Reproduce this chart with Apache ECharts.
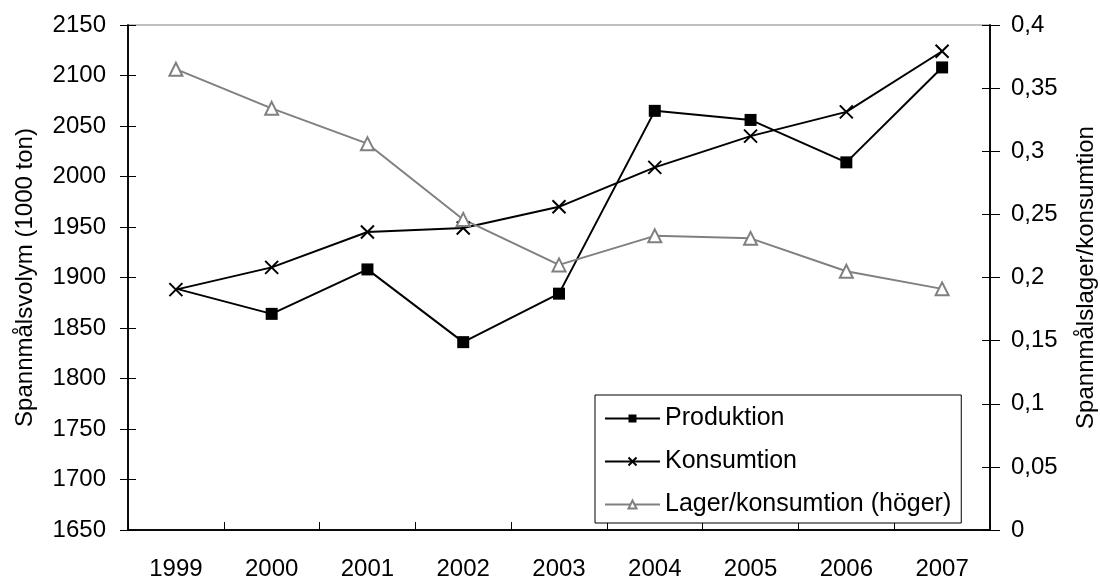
<!DOCTYPE html>
<html>
<head>
<meta charset="utf-8">
<script src="https://cdn.jsdelivr.net/npm/echarts@6/dist/echarts.min.js"></script>
<style>
  html, body { margin: 0; padding: 0; background: #fff; }
  #chart { width: 1100px; height: 581px; }
</style>
</head>
<body>
<div id="chart"></div>
<script>
const years = ['1999', '2000', '2001', '2002', '2003', '2004', '2005', '2006', '2007']
const produktion = [1889, 1864, 1908, 1836, 1884, 2065, 2056, 2014, 2108]
const konsumtion = [1888, 1910, 1945, 1949, 1970, 2009, 2040, 2064, 2124]
const lager = [0.365, 0.334, 0.306, 0.246, 0.21, 0.233, 0.231, 0.205, 0.191]

const font = 'Liberation Sans, Arial, sans-serif'
const crossMark = 'path://M0,0L10,10M10,0L0,10'

const chart = echarts.init(document.getElementById('chart'))

// extra axes only draw the inner half of the cross ticks
const innerY = (pos, min, max, interval) => ({
  type: 'value', position: pos, min: min, max: max, interval: interval,
  axisLine: { show: true, lineStyle: { color: '#000', width: 1.5 } },
  axisLabel: { show: false },
  splitLine: { show: false },
  axisTick: { show: true, inside: true, length: 8, lineStyle: { color: '#000' } }
})

chart.setOption({
  animation: false,
  textStyle: { fontFamily: font },
  grid: {
    left: 128, right: 110, top: 25, bottom: 51,
    outerBoundsMode: 'none',
    containLabel: false,
    show: true, borderColor: '#808080', borderWidth: 1
  },
  legend: {
    orient: 'vertical',
    left: 595,
    top: 395,
    backgroundColor: '#fff',
    borderColor: '#000',
    borderWidth: 1,
    borderRadius: 0,
    padding: [11, 10, 6, 9],
    itemGap: 18,
    itemWidth: 55,
    itemHeight: 10,
    textStyle: { fontSize: 25, color: '#000', fontFamily: font },
    data: ['Produktion', 'Konsumtion', 'Lager/konsumtion (höger)']
  },
  xAxis: [{
    type: 'category',
    data: years,
    boundaryGap: true,
    axisLine: { lineStyle: { color: '#000', width: 1.5 } },
    axisTick: { length: 8, lineStyle: { color: '#000' } },
    axisLabel: { fontSize: 24, color: '#000', margin: 27 },
    splitLine: { show: false }
  }, {
    type: 'category',
    data: years,
    position: 'bottom',
    axisLine: { show: true, lineStyle: { color: '#000', width: 1.5 } },
    axisLabel: { show: false },
    axisTick: { show: true, inside: true, length: 8, lineStyle: { color: '#000' } },
    splitLine: { show: false }
  }],
  yAxis: [{
    type: 'value',
    position: 'left',
    min: 1650, max: 2150, interval: 50,
    name: 'Spannmålsvolym (1000 ton)',
    nameLocation: 'middle',
    nameGap: 91,
    nameTextStyle: { fontSize: 24, color: '#000' },
    axisLine: { show: true, lineStyle: { color: '#000', width: 1.5 } },
    axisTick: { show: true, length: 8, lineStyle: { color: '#000' } },
    axisLabel: { fontSize: 24, color: '#000', margin: 22, formatter: v => String(v) },
    splitLine: { show: false }
  }, {
    type: 'value',
    position: 'right',
    min: 0, max: 0.4, interval: 0.05,
    name: 'Spannmålslager/konsumtion',
    nameLocation: 'middle',
    nameGap: 84,
    nameRotate: 90,
    nameTextStyle: { fontSize: 24, color: '#000' },
    axisLine: { show: true, lineStyle: { color: '#000', width: 1.5 } },
    axisTick: { show: true, length: 10, lineStyle: { color: '#000' } },
    axisLabel: {
      fontSize: 24, color: '#000', margin: 21,
      formatter: v => String(Math.round(v * 100) / 100).replace('.', ',')
    },
    splitLine: { show: false }
  },
  innerY('left', 1650, 2150, 50),
  innerY('right', 0, 0.4, 0.05)],
  series: [{
    name: 'Produktion',
    type: 'line',
    xAxisIndex: 0,
    yAxisIndex: 0,
    data: produktion.map((v, i) => i === 0 ? { value: v, symbol: 'none' } : v),
    symbol: 'rect',
    symbolSize: 12,
    lineStyle: { color: '#000', width: 2 },
    itemStyle: { color: '#000' }
  }, {
    name: 'Konsumtion',
    type: 'line',
    xAxisIndex: 0,
    yAxisIndex: 0,
    data: konsumtion,
    symbol: crossMark,
    symbolSize: 13,
    lineStyle: { color: '#000', width: 2 },
    itemStyle: { color: '#000', borderColor: '#000', borderWidth: 2 }
  }, {
    name: 'Lager/konsumtion (höger)',
    type: 'line',
    xAxisIndex: 0,
    yAxisIndex: 1,
    data: lager,
    symbol: 'triangle',
    symbolSize: 13,
    lineStyle: { color: '#808080', width: 2 },
    itemStyle: { color: '#fff', borderColor: '#808080', borderWidth: 2 }
  }]
})
</script>
</body>
</html>
